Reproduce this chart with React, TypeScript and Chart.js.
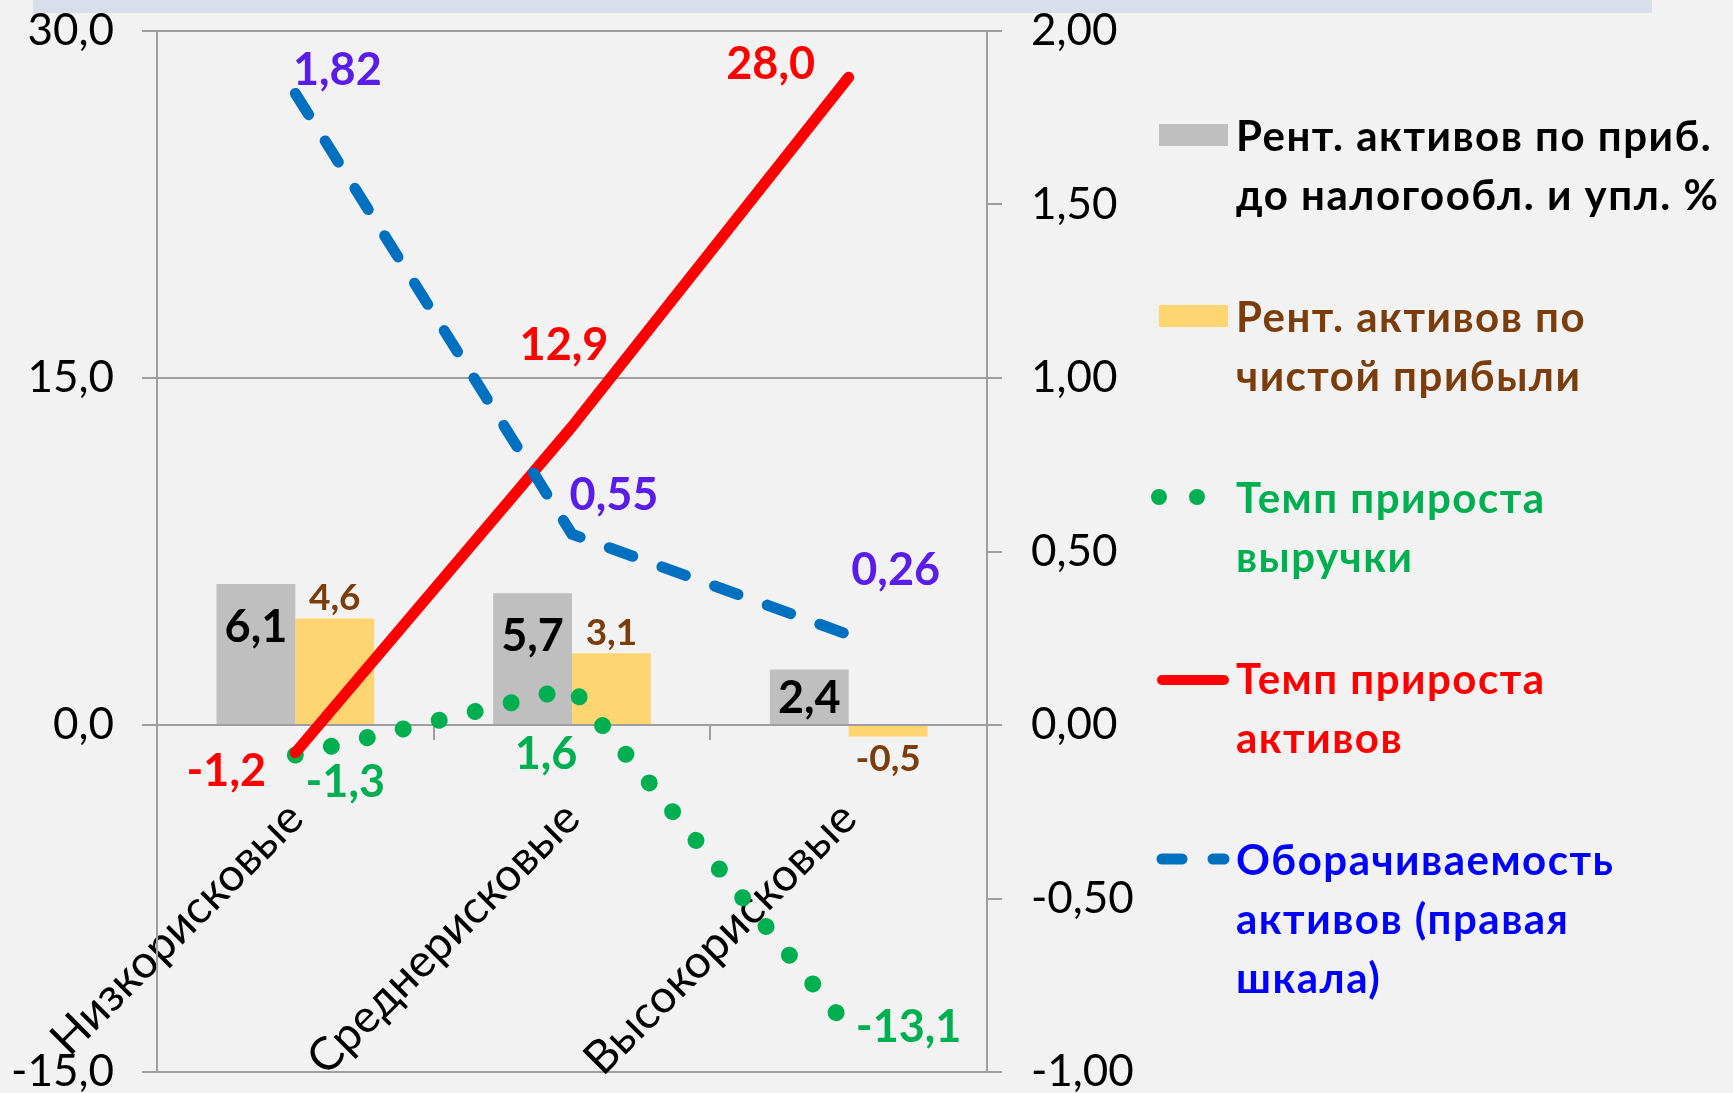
import React, { useEffect, useRef } from "react";
import { Chart, registerables } from "chart.js";

Chart.register(...registerables);

// ---------- data ----------
const categories = ["Низкорисковые", "Среднерисковые", "Высокорисковые"];
const rentPreTax = [6.1, 5.7, 2.4];
const rentNet = [4.6, 3.1, -0.5];
const revenueGrowth = [-1.3, 1.6, -13.1];
const assetGrowth = [-1.2, 12.9, 28.0];
const assetTurnover = [1.82, 0.55, 0.26];

const leftAxisRange = { min: -15, max: 30, step: 15 };
const rightAxisRange = { min: -1, max: 2, step: 0.5 };

const seriesNames = [
  ["Рент. активов по приб.", "до налогообл. и упл. %"],
  ["Рент. активов по", "чистой прибыли"],
  ["Темп прироста", "выручки"],
  ["Темп прироста", "активов"],
  ["Оборачиваемость", "активов (правая", "шкала)"],
];

// ---------- styles ----------
const W = 1733;
const H = 1093;
const BG = "#F2F2F2";
const GRID = "#9E9E9E";
const GRAY = "#BFBFBF";
const YELLOW = "#FFD571";
const GREEN = "#00B050";
const RED = "#FF0000";
const BLUE = "#0070C0";
const BROWN = "#7A3D0B";
const VIOLET = "#5A1CE8";
const LEGEND_BLUE = "#0000FF";
const FONT = "Lato, 'Open Sans', sans-serif";

const fmt = (v: number, d: number) => v.toFixed(d).replace(".", ",");

// label placement for line series (pixel offsets relative to the point)
const lineLabelOffsets: Record<number, [number, number][]> = {
  2: [[50, 26], [-26, 65], [60, -2]],
  3: [[-69, 17], [-8, -83], [-78, -14]],
  4: [[42, -25], [42, -40], [47, -66]],
};

const valueLabelPlugin = {
  id: "valueLabels",
  afterDatasetsDraw(chart: any) {
    const ctx = chart.ctx;
    ctx.save();
    ctx.textAlign = "center";
    ctx.textBaseline = "alphabetic";
    chart.data.datasets.forEach((ds: any, di: number) => {
      const meta = chart.getDatasetMeta(di);
      meta.data.forEach((el: any, i: number) => {
        const v = ds.data[i] as number;
        let x = el.x;
        let cy = el.y;
        let size = 45;
        let color = "#000";
        let text = fmt(v, 1);
        if (di === 0) {
          const top = Math.min(el.y, el.base);
          cy = Math.min(top + 42, (el.y + el.base) / 2);
          color = "#000";
        } else if (di === 1) {
          size = 37;
          color = BROWN;
          cy = v >= 0 ? el.y - 22 : el.y + 21;
        } else {
          const off = lineLabelOffsets[di][i];
          x = el.x + off[0];
          cy = el.y + off[1];
          if (di === 2) color = GREEN;
          if (di === 3) color = RED;
          if (di === 4) {
            color = VIOLET;
            text = fmt(v, 2);
          }
        }
        ctx.font = `bold ${size}px ${FONT}`;
        ctx.fillStyle = color;
        ctx.fillText(text, x, cy + size * 0.36);
      });
    });
    ctx.restore();
  },
};

const backgroundPlugin = {
  id: "bg",
  beforeDraw(chart: any) {
    const ctx = chart.ctx;
    ctx.save();
    ctx.fillStyle = BG;
    ctx.fillRect(0, 0, chart.width, chart.height);
    ctx.fillStyle = "#D8DFEB";
    ctx.fillRect(33, 0, 1619, 13);
    ctx.restore();
  },
};

const legendPlugin = {
  id: "customLegend",
  afterDraw(chart: any) {
    const ctx = chart.ctx;
    const area = chart.chartArea;
    const sx = area.right + 172; // swatch left
    const tx = area.right + 249; // text left
    const firstBaseline = 151;
    const itemGap = 181;
    const lineGap = 59;
    const colors = ["#000000", BROWN, GREEN, RED, LEGEND_BLUE];
    ctx.save();
    seriesNames.forEach((lines, k) => {
      const b = firstBaseline + k * itemGap;
      if (k === 0 || k === 1) {
        ctx.fillStyle = k === 0 ? GRAY : YELLOW;
        ctx.fillRect(sx, b - 27, 69, 22);
      } else if (k === 2) {
        ctx.fillStyle = GREEN;
        [0, 38].forEach((dx) => {
          ctx.beginPath();
          ctx.arc(sx + dx, b - 16, 8, 0, Math.PI * 2);
          ctx.fill();
        });
      } else {
        ctx.beginPath();
        ctx.lineCap = "round";
        if (k === 3) {
          ctx.strokeStyle = RED;
          ctx.lineWidth = 10;
          ctx.setLineDash([]);
          ctx.moveTo(sx + 3, b - 14);
          ctx.lineTo(sx + 65, b - 14);
        } else {
          ctx.strokeStyle = BLUE;
          ctx.lineWidth = 11;
          ctx.setLineDash([20, 31]);
          ctx.moveTo(sx + 3, b - 16);
          ctx.lineTo(sx + 65, b - 16);
        }
        ctx.stroke();
        ctx.setLineDash([]);
      }
      ctx.fillStyle = colors[k];
      ctx.font = `bold 42px ${FONT}`;
      (ctx as any).letterSpacing = "1.5px";
      ctx.textAlign = "left";
      ctx.textBaseline = "alphabetic";
      lines.forEach((t, j) => ctx.fillText(t, tx, b + j * lineGap));
      (ctx as any).letterSpacing = "0px";
    });
    ctx.restore();
  },
};

export default function App() {
  const ref = useRef<HTMLCanvasElement | null>(null);

  useEffect(() => {
    if (!ref.current) return;
    const chart = new Chart(ref.current, {
      type: "bar",
      data: {
        labels: categories,
        datasets: [
          {
            type: "bar",
            label: seriesNames[0].join(" "),
            data: rentPreTax,
            backgroundColor: GRAY,
            yAxisID: "y",
            order: 3,
            categoryPercentage: 0.57,
            barPercentage: 1,
          },
          {
            type: "bar",
            label: seriesNames[1].join(" "),
            data: rentNet,
            backgroundColor: YELLOW,
            yAxisID: "y",
            order: 4,
            categoryPercentage: 0.57,
            barPercentage: 1,
          },
          {
            type: "line",
            label: seriesNames[2].join(" "),
            data: revenueGrowth,
            borderColor: GREEN,
            borderWidth: 17,
            borderDash: [0.01, 37],
            borderCapStyle: "round",
            pointRadius: 0,
            tension: 0,
            fill: false,
            yAxisID: "y",
            order: 2,
          },
          {
            type: "line",
            label: seriesNames[3].join(" "),
            data: assetGrowth,
            borderColor: RED,
            borderWidth: 11,
            borderCapStyle: "round",
            borderJoinStyle: "round",
            pointRadius: 0,
            tension: 0,
            fill: false,
            yAxisID: "y",
            order: 1,
          },
          {
            type: "line",
            label: seriesNames[4].join(" "),
            data: assetTurnover,
            borderColor: BLUE,
            borderWidth: 11,
            borderDash: [25, 31],
            borderCapStyle: "round",
            pointRadius: 0,
            tension: 0,
            fill: false,
            yAxisID: "y1",
            order: 0,
          },
        ],
      },
      options: {
        responsive: false,
        animation: false,
        layout: { padding: { top: 31, bottom: 21, left: 0, right: 0 } },
        plugins: {
          legend: { display: false },
          tooltip: { enabled: false },
        },
        scales: {
          x: {
            type: "category",
            position: { y: 0 } as any,
            offset: true,
            grid: {
              offset: true,
              drawOnChartArea: false,
              drawTicks: true,
              tickLength: 14,
              color: GRID,
              lineWidth: 2,
            },
            border: { display: true, color: GRID, width: 2 },
            ticks: {
              autoSkip: false,
              maxRotation: 45,
              minRotation: 45,
              padding: 52,
              color: "#000",
              font: { family: FONT, size: 46 },
            },
            afterFit: (s: any) => {
              s.height = 0;
              s.paddingLeft = 0;
              s.paddingRight = 0;
            },
          },
          y: {
            type: "linear",
            position: "left",
            min: leftAxisRange.min,
            max: leftAxisRange.max,
            ticks: {
              stepSize: leftAxisRange.step,
              padding: 28,
              color: "#000",
              font: { family: FONT, size: 44 },
              callback: (v: any) => fmt(Number(v), 1),
            },
            grid: {
              color: GRID,
              lineWidth: 2,
              drawTicks: true,
              tickLength: 15,
            },
            border: { display: true, color: GRID, width: 2 },
            afterFit: (s: any) => {
              s.width = 157;
              s.paddingTop = 0;
              s.paddingBottom = 0;
            },
          },
          y1: {
            type: "linear",
            position: "right",
            min: rightAxisRange.min,
            max: rightAxisRange.max,
            ticks: {
              stepSize: rightAxisRange.step,
              padding: 29,
              color: "#000",
              font: { family: FONT, size: 44 },
              callback: (v: any) => fmt(Number(v), 2),
            },
            grid: {
              drawOnChartArea: false,
              color: GRID,
              lineWidth: 2,
              drawTicks: true,
              tickLength: 15,
            },
            border: { display: true, color: GRID, width: 2 },
            afterFit: (s: any) => {
              s.width = W - 987;
              s.paddingTop = 0;
              s.paddingBottom = 0;
            },
          },
        },
      },
      plugins: [backgroundPlugin, valueLabelPlugin, legendPlugin],
    } as any);
    return () => chart.destroy();
  }, []);

  return (
    <div style={{ position: "fixed", left: 0, top: 0, width: W, height: H, background: BG }}>
      <canvas ref={ref} width={W} height={H} style={{ display: "block", width: W, height: H }} />
    </div>
  );
}
